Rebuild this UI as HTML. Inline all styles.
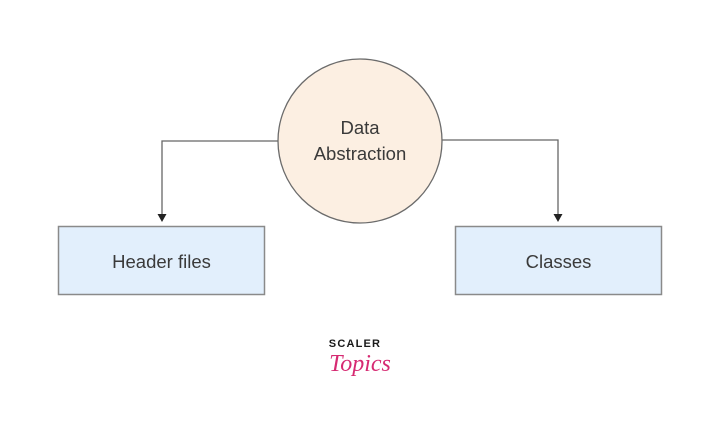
<!DOCTYPE html>
<html><head><meta charset="utf-8"><style>
html,body{margin:0;padding:0;background:#fff;}
svg{display:block;}
text{font-family:"Liberation Sans",sans-serif;}
</style></head><body>
<svg width="720" height="427" viewBox="0 0 720 427" xmlns="http://www.w3.org/2000/svg">
<rect width="720" height="427" fill="#fff"/>
<!-- connectors -->
<polyline points="279,141 162,141 162,215" fill="none" stroke="#666" stroke-width="1.3"/>
<polygon points="157.5,214 166.5,214 162,222" fill="#222"/>
<polyline points="441,140 558,140 558,215" fill="none" stroke="#666" stroke-width="1.3"/>
<polygon points="553.5,214 562.5,214 558,222" fill="#222"/>
<!-- circle -->
<circle cx="360" cy="141" r="82" fill="#fcefe2" stroke="#6b6b6b" stroke-width="1.3"/>
<text x="360" y="134" font-size="18.5" fill="#3a3a3a" text-anchor="middle">Data</text>
<text x="360" y="160" font-size="18.5" fill="#3a3a3a" text-anchor="middle">Abstraction</text>
<!-- boxes -->
<rect x="58.5" y="226.5" width="206" height="68" fill="#e2effc" stroke="#8a8a8a" stroke-width="1.5"/>
<text x="161.5" y="268" font-size="18.5" fill="#3a3a3a" text-anchor="middle">Header files</text>
<rect x="455.5" y="226.5" width="206" height="68" fill="#e2effc" stroke="#8a8a8a" stroke-width="1.5"/>
<text x="558.5" y="268" font-size="18.5" fill="#3a3a3a" text-anchor="middle">Classes</text>
<!-- logo -->
<text x="355" y="347" font-size="11" font-weight="bold" fill="#1a1a1a" text-anchor="middle" letter-spacing="1.2">SCALER</text>
<text x="360" y="371" font-size="24" font-style="italic" fill="#d62a72" text-anchor="middle" style="font-family:'Liberation Serif',serif">Topics</text>
</svg>
</body></html>
